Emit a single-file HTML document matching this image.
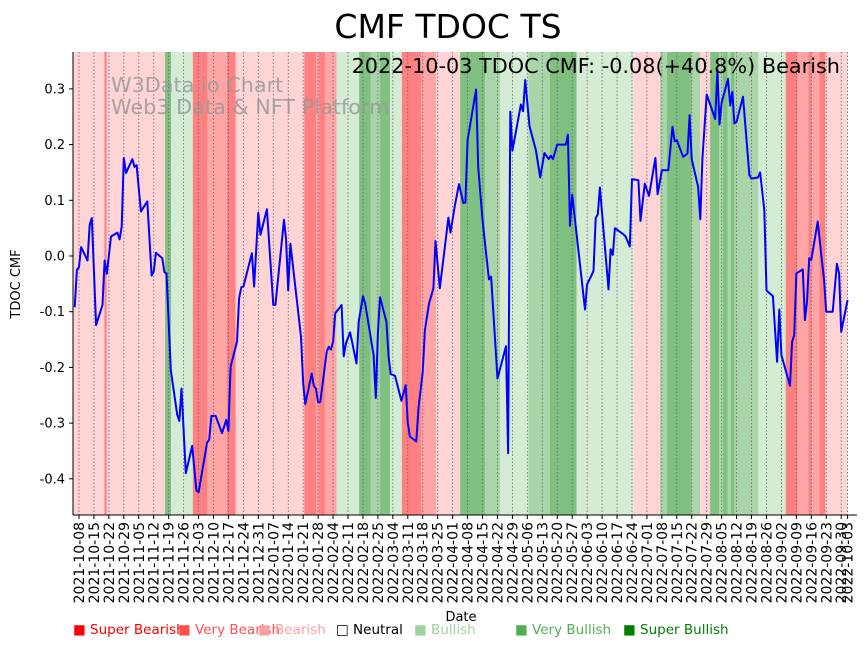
<!DOCTYPE html>
<html><head><meta charset="utf-8"><style>
html,body{margin:0;padding:0;background:#fff;}
svg{display:block;font-family:"DejaVu Sans","Liberation Sans",sans-serif;}
</style></head><body>
<svg id="chart" width="867" height="646" viewBox="0 0 867 646" xmlns="http://www.w3.org/2000/svg">
<g id="bands"></g>
<g id="grid"></g>
<text x="111" y="92" font-size="20.8" fill="#999" fill-opacity="0.85">W3Data.io Chart</text>
<text x="111" y="114" font-size="20.8" fill="#999" fill-opacity="0.85">Web3 Data &amp; NFT Platform</text>
<path id="line" fill="none" stroke="#0000ff" stroke-width="2" stroke-linejoin="round"/>
<text x="448" y="38" font-size="33" text-anchor="middle">CMF TDOC TS</text>
<text x="840" y="73" font-size="20.8" text-anchor="end">2022-10-03 TDOC CMF: -0.08(+40.8%) Bearish</text>
<g id="axes"></g>
<text transform="translate(20,284) rotate(-90)" font-size="13" text-anchor="middle">TDOC CMF</text>
<text x="461" y="621" font-size="13" text-anchor="middle">Date</text>
<g font-size="13.5">
<text x="73" y="634" fill="#ff0000">■ Super Bearish</text>
<text x="178" y="634" fill="#ff5050">■ Very Bearish</text>
<text x="258" y="634" fill="#ffa0a0">■ Bearish</text>
<text x="336" y="634" fill="#000">□ Neutral</text>
<text x="414" y="634" fill="#a0d0a0">■ Bullish</text>
<text x="515" y="634" fill="#50b050">■ Very Bullish</text>
<text x="623" y="634" fill="#008000">■ Super Bullish</text>
</g>
</svg>
<script>
// day offsets from 2021-10-08
const days = [-2,-1,0,1,4,5,6,8,11,12,13,15,18,19,20,21,22,25,26,27,29,32,34,35,36,39,40,41,43,46,47,48,50,53,55,56,60,61,62,64,67,69,70,71,74,75,76,77,81,82,84,85,88,91,92,96,97,98,99,104,105,106,109,110,111,112,113,116,117,118,119,120,123,124,125,127,130,131,133,134,138,139,140,141,144,145,146,148,151,153,154,155,158,159,161,162,164,166,167,169,171,173,174,176,178,180,181,182,186,187,189,192,193,196,200,201,202,203,207,208,209,211,214,216,218,220,221,222,224,228,229,230,231,237,238,241,242,243,244,248,249,250,251,255,256,258,259,262,263,265,267,270,271,273,276,278,279,280,283,285,286,287,290,291,292,294,298,299,300,301,304,305,306,307,308,311,314,315,318,319,321,322,325,327,328,329,333,334,335,336,339,340,341,342,343,346,348,349,350,353,355,356,357,360];
const cmf = [-0.092,-0.025,-0.02,0.016,-0.008,0.056,0.068,-0.124,-0.088,-0.008,-0.032,0.035,0.042,0.030,0.053,0.176,0.149,0.174,0.16,0.163,0.08,0.098,-0.035,-0.028,0.006,-0.004,-0.029,-0.031,-0.205,-0.285,-0.296,-0.238,-0.39,-0.341,-0.421,-0.424,-0.335,-0.330,-0.287,-0.287,-0.318,-0.294,-0.314,-0.199,-0.154,-0.076,-0.056,-0.055,0.005,-0.055,0.078,0.038,0.084,-0.088,-0.088,0.065,0.029,-0.062,0.022,-0.145,-0.229,-0.266,-0.211,-0.233,-0.238,-0.263,-0.262,-0.172,-0.163,-0.168,-0.154,-0.103,-0.088,-0.18,-0.157,-0.137,-0.193,-0.118,-0.072,-0.085,-0.178,-0.255,-0.139,-0.074,-0.118,-0.181,-0.212,-0.215,-0.26,-0.232,-0.30,-0.324,-0.333,-0.273,-0.208,-0.133,-0.085,-0.058,0.027,-0.058,0.005,0.069,0.042,0.09,0.129,0.095,0.096,0.208,0.299,0.16,0.065,-0.042,-0.037,-0.22,-0.162,-0.354,0.259,0.189,0.272,0.26,0.316,0.233,0.19,0.141,0.185,0.174,0.18,0.174,0.2,0.2,0.218,0.054,0.11,-0.096,-0.051,-0.027,0.068,0.075,0.123,-0.06,0.012,0.002,0.05,0.039,0.035,0.017,0.138,0.136,0.063,0.13,0.108,0.176,0.111,0.154,0.154,0.232,0.206,0.208,0.178,0.184,0.253,0.174,0.124,0.066,0.175,0.29,0.246,0.334,0.236,0.275,0.318,0.27,0.295,0.238,0.241,0.286,0.145,0.139,0.141,0.150,0.083,-0.062,-0.072,-0.19,-0.096,-0.178,-0.233,-0.154,-0.142,-0.031,-0.024,-0.115,-0.082,-0.004,-0.007,0.062,-0.01,-0.043,-0.1,-0.1,-0.014,-0.031,-0.136,-0.079];
const bandStart = [-2.8,11.9,13,40.3,43.1,53.3,60.3,69.2,73.4,105.5,111,112.4,115.2,120.7,131.2,136.7,141,145.7,151.2,160.2,167.2,178.5,190.2,197.2,210.5,220.6,233.1,259.6,272.1,275.3,287,290.9,295.6,299.9,301.5,303.9,305.4,307,318.2,331,336.6,341.6,343.2,346.8,349.6];
const bandLevel = [-1,-3,-1,3,1,-3,-2,-3,-1,-3,-2,-3,-2,1,3,2,3,1,-3,-2,-1,3,2,1,2,3,1,-1,2,3,2,-1,3,2,3,2,3,2,1,-3,-2,-3,-2,-3,-1];
const bandEndDay = 360;
const yTicks = [0.3,0.2,0.1,0.0,-0.1,-0.2,-0.3,-0.4];

const NS='http://www.w3.org/2000/svg';
const L=73,R=857,T=52,B=515;
const xs=d=>79+d*2.135;
const ys=v=>256-v*557;
const colors={'-3':'#ff8080','-2':'#ffa5a5','-1':'#ffd4d4','1':'#d4ebd4','2':'#a9d5a9','3':'#80c080'};
function mk(tag,attrs,parent){const e=document.createElementNS(NS,tag);for(const k in attrs)e.setAttribute(k,attrs[k]);parent.appendChild(e);return e;}

const bands=document.getElementById('bands');
for(let i=0;i<bandStart.length;i++){
  const x0=Math.max(L,xs(bandStart[i]));
  const x1=xs(i+1<bandStart.length?bandStart[i+1]:bandEndDay);
  const r=mk('rect',{x:x0,y:T,width:Math.max(0,x1-x0),height:B-T,fill:colors[bandLevel[i]]},bands);
  
  
}

const grid=document.getElementById('grid'),axes=document.getElementById('axes');
const base=new Date(Date.UTC(2021,9,8));
const tickDays=[];for(let d=0;d<=357;d+=7)tickDays.push(d);tickDays.push(360);
function fmt(d){const t=new Date(base.getTime()+d*864e5);return t.toISOString().slice(0,10);}
tickDays.forEach(d=>{
  const x=xs(d);
  const gl=mk('line',{x1:x,x2:x,y1:T,y2:B,stroke:'#666','stroke-width':0.8,'stroke-dasharray':'1.5,2'},grid);
  
  
  mk('line',{x1:x,x2:x,y1:B,y2:B+4,stroke:'#000','stroke-width':1},axes);
  const t=mk('text',{transform:`translate(${x+5},${B+7}) rotate(-90)`,'font-size':14,'text-anchor':'end'},axes);
  t.textContent=fmt(d);
  
  
});
yTicks.forEach(v=>{
  const y=ys(v);
  mk('line',{x1:L-4,x2:L,y1:y,y2:y,stroke:'#000','stroke-width':1},axes);
  const t=mk('text',{x:L-8,y:y+4.5,'font-size':13,'text-anchor':'end'},axes);
  t.textContent=v.toFixed(1);
  
  
});
mk('line',{x1:L,x2:L,y1:T,y2:B,stroke:'#000','stroke-width':1},axes);
mk('line',{x1:L,x2:R,y1:B,y2:B,stroke:'#000','stroke-width':1},axes);

document.getElementById('line').setAttribute('d',days.map((d,i)=>(i?'L':'M')+xs(d).toFixed(1)+','+ys(cmf[i]).toFixed(1)).join(''));
</script>
</body></html>
